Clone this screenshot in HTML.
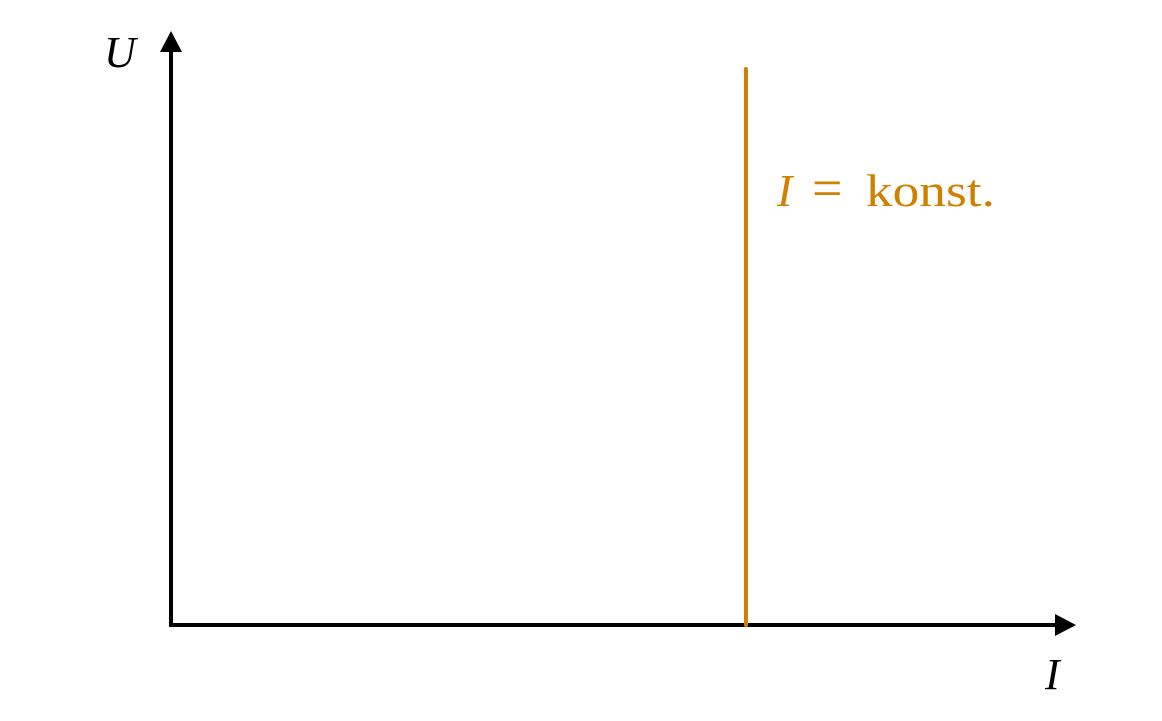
<!DOCTYPE html>
<html><head><meta charset="utf-8"><style>
html,body{margin:0;padding:0;background:#fff;width:1162px;height:721px;overflow:hidden}
</style></head><body>
<svg id="chart" width="1162" height="721" viewBox="0 0 1162 721" xmlns="http://www.w3.org/2000/svg">
<line x1="171" y1="627" x2="171" y2="50" stroke="#000" stroke-width="4"/>
<polygon points="171,31 160,52 182,52" fill="#000"/>
<line x1="169" y1="625" x2="1056" y2="625" stroke="#000" stroke-width="4"/>
<polygon points="1076,625 1055,614 1055,636" fill="#000"/>
<text x="104" y="67" font-family="Liberation Serif, serif" font-style="italic" font-size="44">U</text>
<text x="1045" y="689" font-family="Liberation Serif, serif" font-style="italic" font-size="44">I</text>
<g id="marks"></g>
</svg>
<script>
const categories = ["I = konst."];
const currentValues = [0.636];
const uTop = [1.0];
const xAxis = v => 171 + v * 904;
const yAxis = v => 625 - v * 556;
const g = document.getElementById('marks');
const ns = 'http://www.w3.org/2000/svg';
currentValues.forEach((v, i) => {
  const l = document.createElementNS(ns, 'line');
  
  
  l.setAttribute('x1', xAxis(v)); l.setAttribute('x2', xAxis(v));
  l.setAttribute('y1', yAxis(0)); l.setAttribute('y2', yAxis(uTop[i]));
  l.setAttribute('stroke', '#D08000'); l.setAttribute('stroke-width', '4');
  l.setAttribute('stroke-linecap', 'round');
  g.appendChild(l);
  const x0 = xAxis(v);
  const t = document.createElementNS(ns, 'text');
  
  
  t.setAttribute('y', 206);
  t.setAttribute('font-family', 'Liberation Serif, serif');
  t.setAttribute('font-size', '46'); t.setAttribute('fill', '#D08000');
  t.innerHTML = '<tspan x="' + (x0 + 31) + '" font-style="italic">I</tspan>' +
    '<tspan x="' + (x0 + 66) + '" font-size="54">=</tspan>' +
    '<tspan x="' + (x0 + 120) + '" textLength="129" lengthAdjust="spacingAndGlyphs">konst.</tspan>';
  g.appendChild(t);
});
</script>
</body></html>
